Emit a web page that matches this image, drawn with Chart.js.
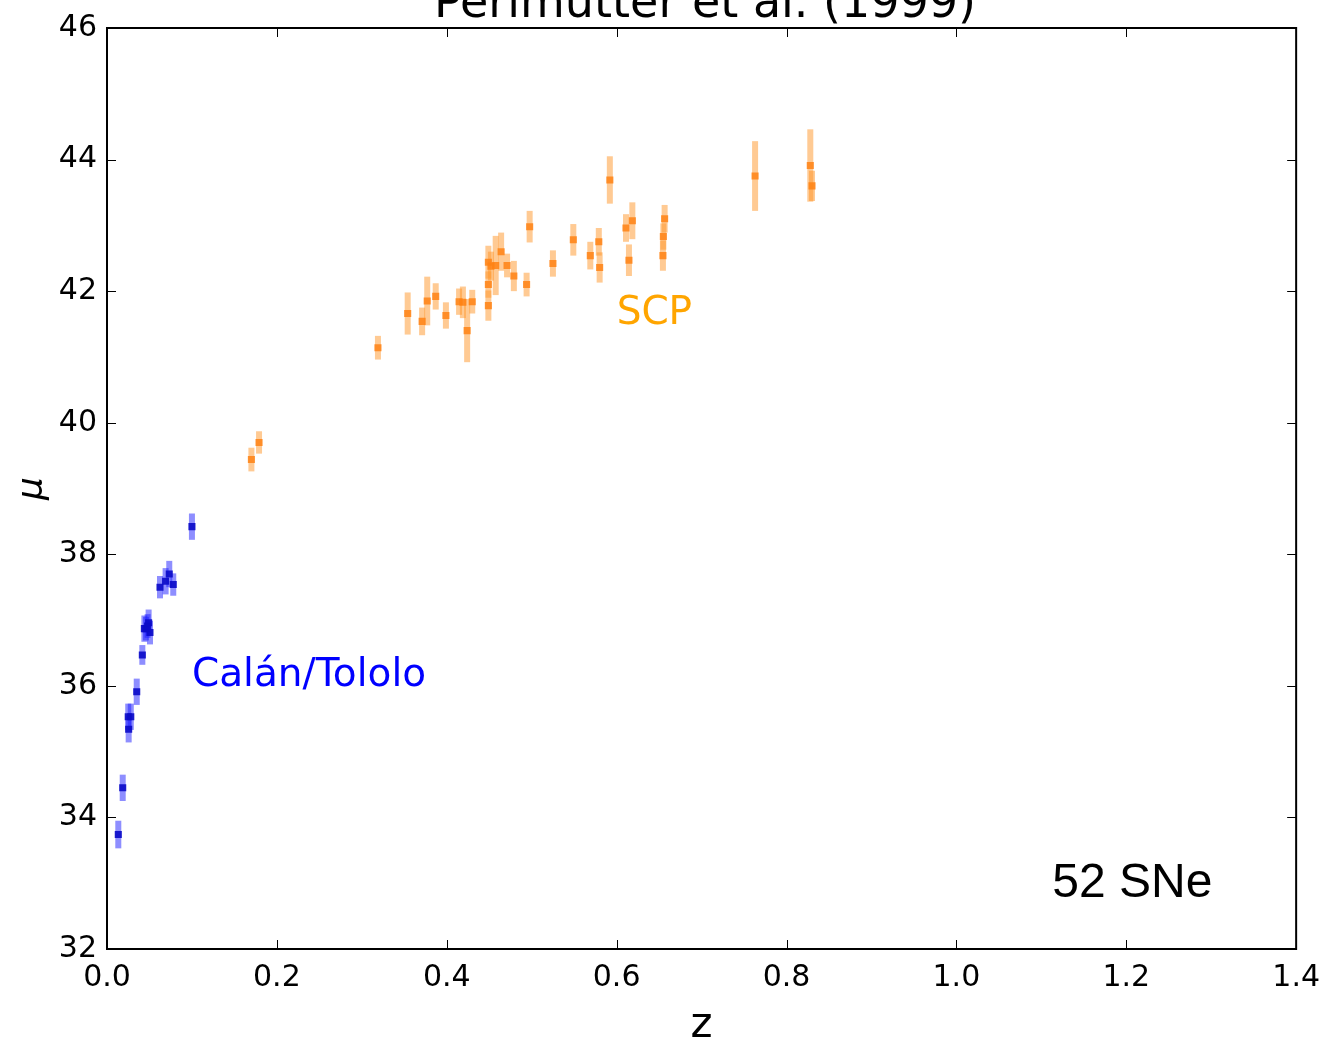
<!DOCTYPE html>
<html>
<head>
<meta charset="utf-8">
<script src="https://cdn.jsdelivr.net/npm/chart.js@4.4.0/dist/chart.umd.min.js"></script>
<style>
  html, body { margin: 0; padding: 0; background: #fff; }
  #wrap { width: 1331px; height: 1047px; position: relative; }
</style>
</head>
<body>
<div id="wrap"><canvas id="hubble" width="1331" height="1047"></canvas></div>
<script>
// Calán/Tololo low-redshift sample
const ctZ   = [0.0133, 0.0185, 0.0255, 0.025, 0.028, 0.035, 0.0416, 0.044, 0.0459, 0.049, 0.0506, 0.0478, 0.0624, 0.069, 0.0733, 0.078, 0.100];
const ctMu  = [33.74, 34.45, 35.34, 35.53, 35.53, 35.91, 36.47, 36.87, 36.87, 36.96, 36.81, 36.91, 37.50, 37.59, 37.70, 37.54, 38.42];
const ctErr = [0.21, 0.20, 0.20, 0.20, 0.20, 0.20, 0.15, 0.20, 0.18, 0.20, 0.18, 0.18, 0.17, 0.20, 0.20, 0.17, 0.20];

// Supernova Cosmology Project high-redshift sample
const scpZ   = [0.170, 0.179, 0.319, 0.354, 0.371, 0.377, 0.387, 0.399, 0.4145, 0.419, 0.424, 0.430,
                0.449, 0.449, 0.449, 0.452, 0.4576, 0.464, 0.471, 0.479, 0.494, 0.4976, 0.525,
                0.549, 0.569, 0.579, 0.580, 0.592, 0.611, 0.6185, 0.6145, 0.6565, 0.655, 0.6545,
                0.763, 0.828, 0.830];
const scpMu  = [39.44, 39.70, 41.14, 41.66, 41.54, 41.85, 41.92, 41.63, 41.84, 41.83, 41.40, 41.84,
                41.78, 42.10, 42.44, 42.38, 42.39, 42.60, 42.39, 42.23, 42.10, 42.98, 42.42,
                42.78, 42.54, 42.75, 42.36, 43.69, 42.96, 43.07, 42.47, 43.10, 42.83, 42.54,
                43.75, 43.91, 43.60];
const scpErr = [0.18, 0.17, 0.18, 0.32, 0.21, 0.37, 0.20, 0.20, 0.20, 0.24, 0.48, 0.18,
                0.23, 0.20, 0.25, 0.22, 0.45, 0.29, 0.18, 0.23, 0.18, 0.24, 0.20,
                0.24, 0.21, 0.21, 0.23, 0.36, 0.21, 0.28, 0.24, 0.21, 0.20, 0.23,
                0.53, 0.55, 0.23];

const xTicks = [0.0, 0.2, 0.4, 0.6, 0.8, 1.0, 1.2, 1.4];
const yTicks = [32, 34, 36, 38, 40, 42, 44, 46];

const toPoints = (zs, mus, errs) => zs.map((z, i) => ({ x: z, y: mus[i], err: errs[i] }));

// vertical error bars drawn behind the markers
const errorBars = {
  id: 'errorBars',
  beforeDatasetsDraw(chart) {
    const { ctx, scales: { x, y } } = chart;
    ctx.save();
    chart.data.datasets.forEach(ds => {
      ctx.strokeStyle = ds.errColor;
      ctx.lineWidth = 6;
      ds.data.forEach(p => {
        const px = x.getPixelForValue(p.x);
        ctx.beginPath();
        ctx.moveTo(px, y.getPixelForValue(p.y - p.err));
        ctx.lineTo(px, y.getPixelForValue(p.y + p.err));
        ctx.stroke();
      });
    });
    ctx.restore();
  }
};

// frame with inward ticks on all four sides, plus labels inside the axes
const frame = {
  id: 'frame',
  afterDraw(chart) {
    const { ctx, chartArea: a, scales: { x, y } } = chart;
    ctx.save();
    ctx.strokeStyle = '#000';
    ctx.lineWidth = 1;
    const len = 9;
    xTicks.forEach(v => {
      const px = Math.round(x.getPixelForValue(v)) + 0.5;
      ctx.beginPath();
      ctx.moveTo(px, a.bottom); ctx.lineTo(px, a.bottom - len);
      ctx.moveTo(px, a.top); ctx.lineTo(px, a.top + len);
      ctx.stroke();
    });
    yTicks.forEach(v => {
      const py = Math.round(y.getPixelForValue(v)) + 0.5;
      ctx.beginPath();
      ctx.moveTo(a.left, py); ctx.lineTo(a.left + len, py);
      ctx.moveTo(a.right, py); ctx.lineTo(a.right - len, py);
      ctx.stroke();
    });
    ctx.lineWidth = 2;
    ctx.strokeRect(a.left, a.top, a.right - a.left, a.bottom - a.top);

    ctx.textBaseline = 'alphabetic';
    ctx.textAlign = 'left';
    ctx.font = '39px "DejaVu Sans"';
    ctx.fillStyle = 'orange';
    ctx.fillText('SCP', x.getPixelForValue(0.6), y.getPixelForValue(41.5));
    ctx.fillStyle = 'blue';
    ctx.fillText('Calán/Tololo', x.getPixelForValue(0.1), y.getPixelForValue(36.0));
    ctx.fillStyle = '#000';
    ctx.font = '48px "Liberation Sans"';
    ctx.fillText('52 SNe', x.getPixelForValue(1.113), y.getPixelForValue(32.79));

    // title sits partly above the top edge of the figure
    ctx.textAlign = 'center';
    ctx.font = '46px "DejaVu Sans"';
    ctx.fillText('Perlmutter et al. (1999)', 705, 17);
    ctx.restore();
  }
};

new Chart(document.getElementById('hubble'), {
  type: 'scatter',
  data: {
    datasets: [
      {
        label: 'Calán/Tololo',
        data: toPoints(ctZ, ctMu, ctErr),
        backgroundColor: 'rgba(10, 10, 200, 0.9)',
        borderWidth: 0,
        errColor: 'rgba(30, 30, 255, 0.5)',
        pointStyle: 'rect',
        pointRadius: 5
      },
      {
        label: 'SCP',
        data: toPoints(scpZ, scpMu, scpErr),
        backgroundColor: 'rgba(255, 130, 20, 0.85)',
        borderWidth: 0,
        errColor: 'rgba(255, 150, 40, 0.5)',
        pointStyle: 'rect',
        pointRadius: 5
      }
    ]
  },
  options: {
    responsive: false,
    animation: false,
    devicePixelRatio: 1,
    layout: { padding: { left: 0, right: 34, top: 25, bottom: 0 } },
    plugins: {
      legend: { display: false },
      tooltip: { enabled: false }
    },
    scales: {
      x: {
        type: 'linear',
        min: 0,
        max: 1.4,
        afterFit(scale) { scale.height = 98; },
        afterBuildTicks(scale) { scale.ticks = xTicks.map(v => ({ value: v })); },
        grid: { display: false, drawTicks: false },
        border: { display: false },
        ticks: {
          color: '#000',
          padding: 11,
          maxRotation: 0,
          autoSkip: false,
          font: { family: 'DejaVu Sans', size: 30 },
          callback: v => v.toFixed(1)
        },
        title: {
          display: true,
          text: 'z',
          color: '#000',
          padding: { top: 0, bottom: 0 },
          font: { family: 'DejaVu Sans', size: 42, lineHeight: 1 }
        }
      },
      y: {
        type: 'linear',
        min: 32,
        max: 46,
        afterFit(scale) { scale.width = 107; },
        afterBuildTicks(scale) { scale.ticks = yTicks.map(v => ({ value: v })); },
        grid: { display: false, drawTicks: false },
        border: { display: false },
        ticks: {
          color: '#000',
          padding: 10,
          autoSkip: false,
          font: { family: 'DejaVu Sans', size: 30 }
        },
        title: {
          display: true,
          text: 'μ',
          color: '#000',
          padding: { top: 15, bottom: 0 },
          font: { family: 'DejaVu Sans', size: 36, style: 'italic', lineHeight: 1 }
        }
      }
    }
  },
  plugins: [errorBars, frame]
});
</script>
</body>
</html>
